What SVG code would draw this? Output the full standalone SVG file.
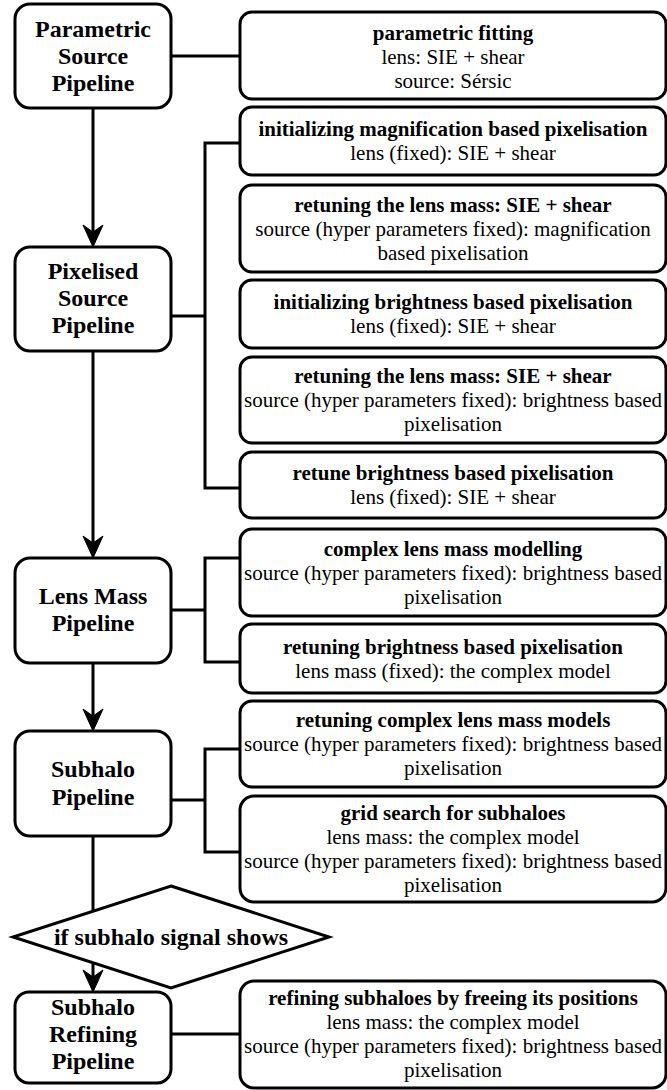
<svg xmlns="http://www.w3.org/2000/svg" width="667" height="1090" viewBox="0 0 667 1090">
<style>
.n{fill:#fff;stroke:#000;stroke-width:3}
.c{fill:none;stroke:#000;stroke-width:3}
.a{fill:#000;stroke:#000;stroke-width:1}
</style>
<rect width="667" height="1090" fill="#fff"/>
<g id="connectors">
<path class="c" d="M171,56 H240"/>
<path class="c" d="M93,108 V234"/>
<path class="a" d="M93,247 L83,225 L93,232 L103,225 Z"/>
<path class="c" d="M171,316 H205 M240,143 H205 V488 H240"/>
<path class="c" d="M93,351 V545"/>
<path class="a" d="M93,558 L83,536 L93,543 L103,536 Z"/>
<path class="c" d="M171,610 H205 M240,558 H205 V662 H240"/>
<path class="c" d="M93,663 V718"/>
<path class="a" d="M93,731 L83,709 L93,716 L103,709 Z"/>
<path class="c" d="M171,800 H205 M240,749 H205 V852 H240"/>
<path class="c" d="M93,836 V912"/>
<path class="c" d="M93,962 V979"/>
<path class="a" d="M93,992 L83,970 L93,977 L103,970 Z"/>
<path class="c" d="M171,1034 H240"/>
</g>
<g id="parametric-pipeline">
<rect class="n" x="15" y="4" width="156" height="104" rx="15"/>
<text font-family="Liberation Serif" font-size="24" font-weight="bold" text-anchor="middle" x="93" y="37">Parametric</text>
<text font-family="Liberation Serif" font-size="24" font-weight="bold" text-anchor="middle" x="93" y="64">Source</text>
<text font-family="Liberation Serif" font-size="24" font-weight="bold" text-anchor="middle" x="93" y="91">Pipeline</text>
</g>
<g id="pixelised-pipeline">
<rect class="n" x="15" y="247" width="156" height="104" rx="15"/>
<text font-family="Liberation Serif" font-size="24" font-weight="bold" text-anchor="middle" x="93" y="279">Pixelised</text>
<text font-family="Liberation Serif" font-size="24" font-weight="bold" text-anchor="middle" x="93" y="306">Source</text>
<text font-family="Liberation Serif" font-size="24" font-weight="bold" text-anchor="middle" x="93" y="333">Pipeline</text>
</g>
<g id="lensmass-pipeline">
<rect class="n" x="15" y="558" width="156" height="105" rx="15"/>
<text font-family="Liberation Serif" font-size="24" font-weight="bold" text-anchor="middle" x="93" y="604">Lens Mass</text>
<text font-family="Liberation Serif" font-size="24" font-weight="bold" text-anchor="middle" x="93" y="631">Pipeline</text>
</g>
<g id="subhalo-pipeline">
<rect class="n" x="15" y="731" width="156" height="105" rx="15"/>
<text font-family="Liberation Serif" font-size="24" font-weight="bold" text-anchor="middle" x="93" y="777">Subhalo</text>
<text font-family="Liberation Serif" font-size="24" font-weight="bold" text-anchor="middle" x="93" y="805">Pipeline</text>
</g>
<g id="decision">
<polygon class="n" points="171,886 329,937 171,988 13,937"/>
<text font-family="Liberation Serif" font-size="24" font-weight="bold" text-anchor="middle" x="171" y="945">if subhalo signal shows</text>
</g>
<g id="refining-pipeline">
<rect class="n" x="15" y="992" width="156" height="91" rx="14"/>
<text font-family="Liberation Serif" font-size="24" font-weight="bold" text-anchor="middle" x="93" y="1015">Subhalo</text>
<text font-family="Liberation Serif" font-size="24" font-weight="bold" text-anchor="middle" x="93" y="1042">Refining</text>
<text font-family="Liberation Serif" font-size="24" font-weight="bold" text-anchor="middle" x="93" y="1069">Pipeline</text>
</g>
<g id="step1">
<rect class="n" x="240" y="12" width="426" height="87" rx="12"/>
<text font-family="Liberation Serif" font-size="21" font-weight="bold" text-anchor="middle" x="453" y="40">parametric fitting</text>
<text font-family="Liberation Serif" font-size="21" text-anchor="middle" x="453" y="64">lens: SIE + shear</text>
<text font-family="Liberation Serif" font-size="21" text-anchor="middle" x="453" y="88">source: S&#233;rsic</text>
</g>
<g id="step2">
<rect class="n" x="240" y="107" width="426" height="68" rx="12"/>
<text font-family="Liberation Serif" font-size="21" font-weight="bold" text-anchor="middle" x="453" y="136">initializing magnification based pixelisation</text>
<text font-family="Liberation Serif" font-size="21" text-anchor="middle" x="453" y="160">lens (fixed): SIE + shear</text>
</g>
<g id="step3">
<rect class="n" x="240" y="185" width="426" height="87" rx="12"/>
<text font-family="Liberation Serif" font-size="21" font-weight="bold" text-anchor="middle" x="453" y="212">retuning the lens mass: SIE + shear</text>
<text font-family="Liberation Serif" font-size="21" text-anchor="middle" x="453" y="236">source (hyper parameters fixed): magnification</text>
<text font-family="Liberation Serif" font-size="21" text-anchor="middle" x="453" y="260">based pixelisation</text>
</g>
<g id="step4">
<rect class="n" x="240" y="280" width="426" height="68" rx="12"/>
<text font-family="Liberation Serif" font-size="21" font-weight="bold" text-anchor="middle" x="453" y="309">initializing brightness based pixelisation</text>
<text font-family="Liberation Serif" font-size="21" text-anchor="middle" x="453" y="333">lens (fixed): SIE + shear</text>
</g>
<g id="step5">
<rect class="n" x="240" y="357" width="426" height="86" rx="12"/>
<text font-family="Liberation Serif" font-size="21" font-weight="bold" text-anchor="middle" x="453" y="383">retuning the lens mass: SIE + shear</text>
<text font-family="Liberation Serif" font-size="21" text-anchor="middle" x="453" y="407">source (hyper parameters fixed): brightness based</text>
<text font-family="Liberation Serif" font-size="21" text-anchor="middle" x="453" y="431">pixelisation</text>
</g>
<g id="step6">
<rect class="n" x="240" y="452" width="426" height="66" rx="12"/>
<text font-family="Liberation Serif" font-size="21" font-weight="bold" text-anchor="middle" x="453" y="480">retune brightness based pixelisation</text>
<text font-family="Liberation Serif" font-size="21" text-anchor="middle" x="453" y="504">lens (fixed): SIE + shear</text>
</g>
<g id="step7">
<rect class="n" x="240" y="529" width="426" height="87" rx="12"/>
<text font-family="Liberation Serif" font-size="21" font-weight="bold" text-anchor="middle" x="453" y="556">complex lens mass modelling</text>
<text font-family="Liberation Serif" font-size="21" text-anchor="middle" x="453" y="580">source (hyper parameters fixed): brightness based</text>
<text font-family="Liberation Serif" font-size="21" text-anchor="middle" x="453" y="604">pixelisation</text>
</g>
<g id="step8">
<rect class="n" x="240" y="624" width="426" height="69" rx="12"/>
<text font-family="Liberation Serif" font-size="21" font-weight="bold" text-anchor="middle" x="453" y="654">retuning brightness based pixelisation</text>
<text font-family="Liberation Serif" font-size="21" text-anchor="middle" x="453" y="678">lens mass (fixed): the complex model</text>
</g>
<g id="step9">
<rect class="n" x="240" y="701" width="426" height="86" rx="12"/>
<text font-family="Liberation Serif" font-size="21" font-weight="bold" text-anchor="middle" x="453" y="727">retuning complex lens mass models</text>
<text font-family="Liberation Serif" font-size="21" text-anchor="middle" x="453" y="751">source (hyper parameters fixed): brightness based</text>
<text font-family="Liberation Serif" font-size="21" text-anchor="middle" x="453" y="775">pixelisation</text>
</g>
<g id="step10">
<rect class="n" x="240" y="796" width="426" height="106" rx="14"/>
<text font-family="Liberation Serif" font-size="21" font-weight="bold" text-anchor="middle" x="453" y="820">grid search for subhaloes</text>
<text font-family="Liberation Serif" font-size="21" text-anchor="middle" x="453" y="844">lens mass: the complex model</text>
<text font-family="Liberation Serif" font-size="21" text-anchor="middle" x="453" y="868">source (hyper parameters fixed): brightness based</text>
<text font-family="Liberation Serif" font-size="21" text-anchor="middle" x="453" y="892">pixelisation</text>
</g>
<g id="step11">
<rect class="n" x="240" y="981" width="426" height="107" rx="14"/>
<text font-family="Liberation Serif" font-size="21" font-weight="bold" text-anchor="middle" x="453" y="1005">refining subhaloes by freeing its positions</text>
<text font-family="Liberation Serif" font-size="21" text-anchor="middle" x="453" y="1029">lens mass: the complex model</text>
<text font-family="Liberation Serif" font-size="21" text-anchor="middle" x="453" y="1053">source (hyper parameters fixed): brightness based</text>
<text font-family="Liberation Serif" font-size="21" text-anchor="middle" x="453" y="1077">pixelisation</text>
</g>
</svg>
